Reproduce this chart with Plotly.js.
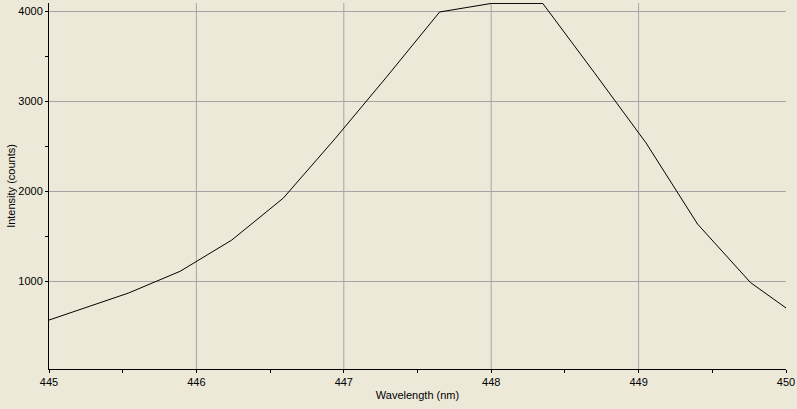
<!DOCTYPE html>
<html>
<head>
<meta charset="utf-8">
<script src="https://cdn.plot.ly/plotly-3.0.1.min.js"></script>
<style>html,body{margin:0;padding:0;background:#ECE9D8;}#chart{width:797px;height:409px;}</style>
</head>
<body>
<div id="chart"></div>
<script>
const wavelength = [444.84, 445.19, 445.54, 445.89, 446.24, 446.59, 446.94, 447.29, 447.65, 448.00, 448.35, 448.70, 449.05, 449.40, 449.76, 450.11];
const intensity  = [480, 675, 870, 1112, 1459, 1926, 2585, 3272, 3995, 4090, 4090, 3320, 2540, 1637, 985, 575];
const xTicks = [445, 446, 447, 448, 449, 450];
const yTicks = [1000, 2000, 3000, 4000];

const trace = {
  x: wavelength, y: intensity, type: 'scatter', mode: 'lines',
  line: {color: '#000000', width: 1}, hoverinfo: 'skip'
};
const font = {family: 'Liberation Sans, Arial, sans-serif', size: 11, color: '#000000'};
// vertical grid lines at interior ticks (no grid line on the right edge)
const gridShapes = xTicks.slice(1, -1).map(v => ({
  type: 'line', xref: 'x', yref: 'paper', x0: v, x1: v, y0: 0, y1: 1,
  line: {color: '#A5A5A5', width: 1}, layer: 'below'
}));
const layout = {
  width: 797, height: 409,
  margin: {l: 49, r: 11, t: 3, b: 40},
  paper_bgcolor: '#ECE9D8', plot_bgcolor: '#ECE9D8',
  showlegend: false, font: font,
  shapes: gridShapes,
  xaxis: {
    range: [445, 450], tickmode: 'array', tickvals: xTicks, ticktext: xTicks.map(String),
    showgrid: false, zeroline: false,
    showline: true, linecolor: '#000000', linewidth: 1,
    ticks: 'outside', ticklen: 3, tickcolor: '#000000',
    minor: {dtick: 0.5, ticks: 'outside', ticklen: 3, tickcolor: '#000000', showgrid: false},
    title: {text: 'Wavelength (nm)', font: font, standoff: 4}, tickfont: font
  },
  yaxis: {
    range: [25, 4095], tickmode: 'array', tickvals: yTicks, ticktext: yTicks.map(String),
    showgrid: true, gridcolor: '#A5A5A5', gridwidth: 1, zeroline: false,
    showline: true, linecolor: '#000000', linewidth: 1,
    ticks: 'outside', ticklen: 3, tickcolor: '#000000',
    minor: {tickvals: [1500, 2500, 3500], ticks: 'outside', ticklen: 3, tickcolor: '#000000', showgrid: false},
    title: {text: 'Intensity (counts)', font: font, standoff: 0}, tickfont: font
  }
};
Plotly.newPlot('chart', [trace], layout, {displayModeBar: false, staticPlot: true});
</script>
</body>
</html>
